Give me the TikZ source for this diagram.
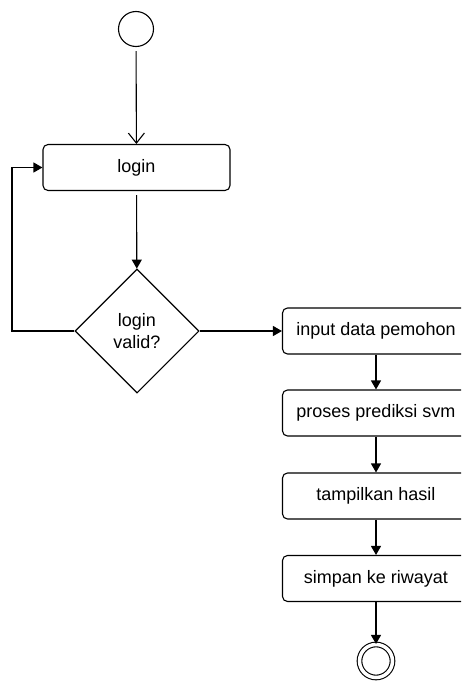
\documentclass[tikz,border=0pt]{standalone}
\usepackage{fontspec}
\setmainfont{Liberation Sans}
\usetikzlibrary{shapes.geometric,arrows.meta}

\begin{document}
\begin{tikzpicture}[%
    x=1pt,
    y=-1pt,
    font=\fontsize{18}{22}\selectfont,
    block/.style={
      rectangle,
      draw=black,
      line width=1.1pt,
      fill=white,
      rounded corners=5pt,
      minimum width=187pt,
      minimum height=46pt,
      inner sep=0pt
    },
    decision/.style={
      diamond,
      draw=black,
      line width=1.1pt,
      fill=white,
      align=center,
      minimum width=124pt,
      minimum height=124pt,
      inner sep=0pt
    },
    startnode/.style={
      circle,
      draw=black,
      line width=1.1pt,
      minimum size=35pt,
      inner sep=0pt
    },
    endnode/.style={
      circle,
      draw=black,
      line width=1.1pt,
      double,
      double distance=3.5pt,
      minimum size=33pt,
      inner sep=0pt
    },
    line/.style={
      draw,
      line width=1.1pt,
      -{Triangle[length=9pt,width=10pt]}
    },
    lineopen/.style={
      draw,
      line width=1.1pt,
      -{Straight Barb[length=10pt,width=16pt]},
      shorten <=4pt
    }
  ]
    \clip (0,0) rectangle (461,688);

    \draw (136,29) node[startnode] (start) {};
    \draw (136.5,167.5) node[block] (login) {login};
    \draw (137,331) node[decision] (valid) {login\\valid?};
    \draw (376,331) node[block] (input) {input data pemohon};
    \draw (376,413) node[block] (proses) {proses prediksi svm};
    \draw (376,496) node[block] (tampil) {tampilkan hasil};
    \draw (376,578.5) node[block] (simpan) {simpan ke riwayat};
    \draw (376,661) node[endnode] (stop) {};
    \coordinate (loop) at (12,167.5);

    \path[lineopen] (start) -- (login);
    \path[line, shorten <=4pt] (login) -- (valid);
    \path[line] (valid.west) -| (loop) -- (login.west);
    \path[line] (valid.east) -- (input.west);
    \path[line] (input) -- (proses);
    \path[line] (proses) -- (tampil);
    \path[line] (tampil) -- (simpan);
    \path[line] (simpan) -- (stop);

  \end{tikzpicture}
\end{document}
